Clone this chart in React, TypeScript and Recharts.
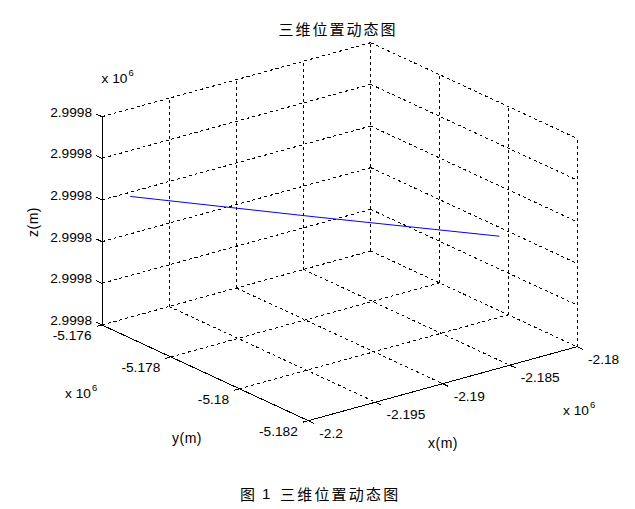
import { ComposedChart, XAxis, YAxis, Scatter, ReferenceLine } from 'recharts'

// axis ticks (x, y in units of 1e6 m; z in 1e6 m)
const X_TICKS = [-2.2, -2.195, -2.19, -2.185, -2.18]
const Y_TICKS = [-5.176, -5.178, -5.18, -5.182]
const Z_TICKS = [2.99976, 2.99977, 2.99978, 2.99979, 2.9998, 2.99981]

// trajectory samples
const TRACK_X = [-2.2, -2.1922, -2.18425]
const TRACK_Y = [-5.17682, -5.17912, -5.1814]
const TRACK_Z = [2.999794, 2.999791, 2.999788]

const W = 635
const H = 509

// view box of the 3D axes on the page
const ORIGIN = { x: 102, y: 325 }
const EX = { x: 268.7, y: -74 }
const EY = { x: 206.3, y: 95.7 }
const EZ = { x: 0, y: -208.3 }

const xMin = X_TICKS[0], xMax = X_TICKS[X_TICKS.length - 1]
const yMin = Y_TICKS[0], yMax = Y_TICKS[Y_TICKS.length - 1]
const zMin = Z_TICKS[0], zMax = Z_TICKS[Z_TICKS.length - 1]

const norm = (v: number, lo: number, hi: number) => (v - lo) / (hi - lo)

const project = (x: number, y: number, z: number) => {
    const a = norm(x, xMin, xMax)
    const b = norm(y, yMin, yMax)
    const c = norm(z, zMin, zMax)
    return {
        px: ORIGIN.x + a * EX.x + b * EY.x + c * EZ.x,
        py: ORIGIN.y + a * EX.y + b * EY.y + c * EZ.y,
    }
}

type Seg = { p: { px: number; py: number }[] }

const buildGrid = () => {
    const segs: Seg[] = []
    // floor z = zMin
    X_TICKS.forEach((x) => segs.push({ p: [project(x, yMin, zMin), project(x, yMax, zMin)] }))
    Y_TICKS.forEach((y) => segs.push({ p: [project(xMin, y, zMin), project(xMax, y, zMin)] }))
    // back wall y = yMin
    X_TICKS.forEach((x) => segs.push({ p: [project(x, yMin, zMin), project(x, yMin, zMax)] }))
    Z_TICKS.forEach((z) => segs.push({ p: [project(xMin, yMin, z), project(xMax, yMin, z)] }))
    // back wall x = xMax
    Y_TICKS.forEach((y) => segs.push({ p: [project(xMax, y, zMin), project(xMax, y, zMax)] }))
    Z_TICKS.forEach((z) => segs.push({ p: [project(xMax, yMin, z), project(xMax, yMax, z)] }))
    return segs
}

const axes: Seg[] = [
    { p: [project(xMin, yMin, zMin), project(xMin, yMin, zMax)] },
    { p: [project(xMin, yMin, zMin), project(xMin, yMax, zMin)] },
    { p: [project(xMin, yMax, zMin), project(xMax, yMax, zMin)] },
]

const TICK = 0.028
const tickSegs = () => {
    const segs: Seg[] = []
    Z_TICKS.forEach((z) => {
        const p = project(xMin, yMin, z)
        segs.push({ p: [p, { px: p.px - EY.x * TICK, py: p.py - EY.y * TICK }] })
    })
    Y_TICKS.forEach((y) => {
        const p = project(xMin, y, zMin)
        segs.push({ p: [p, { px: p.px - EX.x * 0.02, py: p.py - EX.y * 0.02 }] })
    })
    X_TICKS.forEach((x) => {
        const p = project(x, yMax, zMin)
        segs.push({ p: [p, { px: p.px + EY.x * TICK, py: p.py + EY.y * TICK }] })
    })
    return segs
}

const track = TRACK_X.map((x, i) => project(x, TRACK_Y[i], TRACK_Z[i]))

const FONT = '"Liberation Sans", Arial, sans-serif'
const CJK = '"Noto Sans CJK SC", sans-serif'
const FS = 13.7

const line = (s: Seg, k: string, dashed: boolean) => (
    <ReferenceLine
        key={k}
        segment={[{ x: s.p[0].px, y: s.p[0].py }, { x: s.p[1].px, y: s.p[1].py }]}
        stroke="#000"
        strokeWidth={1}
        strokeDasharray={dashed ? '3 3' : undefined}
        shapeRendering="crispEdges"
        ifOverflow="visible"
    />
)

const Pow = ({ x, y }: { x: number; y: number }) => (
    <text x={x} y={y} fontFamily={FONT} fontSize={FS} fill="#000">
        x 10
        <tspan dx={1} dy={-7} fontSize={9.5}>6</tspan>
    </text>
)

const App = () => {
    const grid = buildGrid()
    return (
        <div style={{ width: W, height: H }}>
            <style>{'body{margin:0}'}</style>
            <ComposedChart width={W} height={H} margin={{ top: 0, right: 0, bottom: 0, left: 0 }}>
                <XAxis type="number" dataKey="px" domain={[0, W]} hide allowDataOverflow />
                <YAxis type="number" dataKey="py" domain={[0, H]} reversed hide allowDataOverflow />
                {grid.map((s, i) => line(s, `g${i}`, true))}
                {axes.map((s, i) => line(s, `a${i}`, false))}
                {tickSegs().map((s, i) => line(s, `t${i}`, false))}
                <Scatter
                    data={track}
                    dataKey="py"
                    line={{ stroke: '#0000ff', strokeWidth: 1 }}
                    shape={() => <g />}
                    isAnimationActive={false}
                />
                {Z_TICKS.map((z, i) => {
                    const p = project(xMin, yMin, z)
                    return (
                        <text key={`zl${i}`} x={p.px - 10} y={p.py - 4.5} textAnchor="end" dominantBaseline="central"
                            fontFamily={FONT} fontSize={FS} fill="#000">{z.toFixed(4)}</text>
                    )
                })}
                {Y_TICKS.map((y, i) => {
                    const p = project(xMin, y, zMin)
                    return (
                        <text key={`yl${i}`} x={p.px - 10.5} y={p.py + 10.5} textAnchor="end" dominantBaseline="central"
                            fontFamily={FONT} fontSize={FS} fill="#000">{String(y)}</text>
                    )
                })}
                {X_TICKS.map((x, i) => {
                    const p = project(x, yMax, zMin)
                    return (
                        <text key={`xl${i}`} x={p.px + 11} y={p.py + 12.7} textAnchor="start" dominantBaseline="central"
                            fontFamily={FONT} fontSize={FS} fill="#000">{String(x)}</text>
                    )
                })}
                <Pow x={101.5} y={83} />
                <Pow x={65} y={398} />
                <Pow x={563} y={415} />
                <text x={33} y={222} transform="rotate(-90 33 222)" textAnchor="middle" dominantBaseline="central"
                    fontFamily={FONT} fontSize={14} letterSpacing={0.5} fill="#000">z(m)</text>
                <text x={187} y={438} textAnchor="middle" dominantBaseline="central"
                    fontFamily={FONT} fontSize={14} letterSpacing={0.5} fill="#000">y(m)</text>
                <text x={443} y={443} textAnchor="middle" dominantBaseline="central"
                    fontFamily={FONT} fontSize={14} letterSpacing={0.5} fill="#000">x(m)</text>
                <text x={338} y={28.5} textAnchor="middle" dominantBaseline="central"
                    fontFamily={CJK} fontSize={15} letterSpacing={2} fill="#000">三维位置动态图</text>
                <text x={240} y={493} dominantBaseline="central" fontFamily={CJK} fontSize={15} fill="#000">图</text>
                <text x={262} y={493} dominantBaseline="central" fontFamily={FONT} fontSize={15} fill="#000">1</text>
                <text x={280} y={493} dominantBaseline="central" fontFamily={CJK} fontSize={15} letterSpacing={2.2} fill="#000">三维位置动态图</text>
            </ComposedChart>
        </div>
    )
}

export default App
